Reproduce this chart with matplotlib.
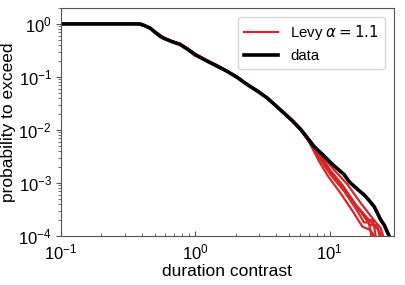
import matplotlib
matplotlib.use("Agg")
import matplotlib.pyplot as plt

plt.rcParams['font.family'] = ['Liberation Sans', 'DejaVu Sans']

# datos observados (funcion de supervivencia)
data_x = [0.1, 0.39, 0.42, 0.46, 0.50, 0.55, 0.58, 0.66, 0.77, 0.88, 1.0, 1.1, 1.22,
          1.45, 1.72, 2.05, 2.43, 2.9, 3.43, 3.9, 4.56, 5.3, 6.1, 6.8, 7.6, 8.8,
          10.2, 11.3, 12.8, 14.0, 15.2, 16.5, 18.0, 19.5, 21.4, 22.5, 24.0, 25.5, 27.0, 27.7]
data_y = [1.0, 1.0, 0.93, 0.84, 0.70, 0.58, 0.54, 0.47, 0.41, 0.33, 0.26, 0.23, 0.20,
          0.16, 0.128, 0.098, 0.072, 0.054, 0.040, 0.030, 0.021, 0.0148, 0.0102, 0.0072,
          0.0049, 0.0035, 0.0024, 0.0019, 0.00144, 0.00105, 0.00087, 0.00072, 0.0006,
          0.00048, 0.00036, 0.00028, 0.0002, 0.00016, 0.000115, 0.0001]

# parte comun de las muestras Levy
levy_x_body = [0.1, 0.37, 0.42, 0.47, 0.53, 0.58, 0.66, 0.77, 0.88, 1.0, 1.22, 1.45,
               1.72, 2.05, 2.43, 2.9, 3.43, 4.56, 5.3, 6.1]
levy_y_body = [1.0, 1.0, 0.92, 0.80, 0.65, 0.55, 0.48, 0.42, 0.34, 0.27, 0.205, 0.165,
               0.13, 0.10, 0.073, 0.055, 0.040, 0.0205, 0.0145, 0.0098]

# colas de cada muestra
tail_x = [
    [7.0, 8.5, 10.2, 12.8, 16.0, 18.0, 19.5, 20.5],
    [7.0, 8.6, 10.2, 12.8, 16.0, 19.0, 21.0, 22.0],
    [7.0, 8.4, 10.2, 13.0, 16.5, 20.0, 22.5, 23.5],
    [7.0, 8.7, 10.0, 12.5, 15.5, 19.0, 23.0, 24.5],
    [7.0, 8.3, 9.8, 12.0, 15.0, 17.5, 20.0, 21.5],
    [7.0, 8.8, 10.5, 13.5, 17.0, 21.0, 24.0, 25.0],
]
tail_y = [
    [0.0062, 0.0028, 0.0014, 0.0007, 0.0003, 0.00018, 0.00018, 0.0001],
    [0.0065, 0.0031, 0.0016, 0.0008, 0.00035, 0.0002, 0.0002, 0.0001],
    [0.0063, 0.0029, 0.0015, 0.00075, 0.00032, 0.00016, 0.00016, 0.0001],
    [0.0066, 0.0033, 0.0018, 0.0009, 0.0004, 0.00022, 0.00013, 0.0001],
    [0.0060, 0.0026, 0.0013, 0.00065, 0.00028, 0.00015, 0.00013, 0.0001],
    [0.0067, 0.0034, 0.0019, 0.00095, 0.00042, 0.00021, 0.00014, 0.0001],
]

fig = plt.figure(figsize=(4.06, 2.85), dpi=100)
ax = fig.add_axes([0.150, 0.172, 0.820, 0.800])

for i in range(len(tail_x)):
    ax.plot(levy_x_body + tail_x[i], levy_y_body + tail_y[i], color='#d62728', lw=1.6,
            label=r'Levy $\alpha = 1.1$' if i == 0 else None)

ax.plot(data_x, data_y, color='black', lw=2.6, label='data')

ax.set_xscale('log')
ax.set_yscale('log')
ax.set_xlim(0.1, 30)
ax.set_ylim(1e-4, 2)
ax.set_xlabel('duration contrast', fontsize=12.5, labelpad=1)
ax.set_ylabel('probability to exceed', fontsize=12.5, labelpad=2)
ax.tick_params(axis='x', which='both', direction='in', labelsize=12, pad=5)
ax.tick_params(axis='y', which='both', direction='out', labelsize=12, pad=3)
ax.tick_params(which='major', length=3.5, color='#555555')
ax.tick_params(which='minor', length=2, color='#555555')
for s in ax.spines.values():
    s.set_color('#555555')
ax.legend(loc='upper right', fontsize=10.8, handlelength=2.3, borderaxespad=0.6)

fig.savefig('out.png', dpi=100)
